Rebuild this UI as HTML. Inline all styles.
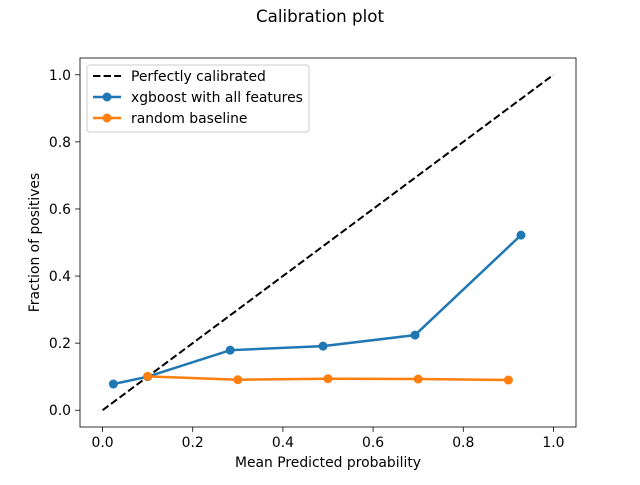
<!DOCTYPE html>
<html><head><meta charset="utf-8"><style>
body{margin:0;background:#fff;}
text{font-family:"DejaVu Sans","Liberation Sans",sans-serif;fill:#000;}
</style></head><body>
<svg id="c" width="640" height="480" xmlns="http://www.w3.org/2000/svg">
<text x="320" y="22" font-size="16.7" text-anchor="middle">Calibration plot</text>
<g id="plot"></g>
</svg>
<script>
const xgbX=[0.024,0.1,0.283,0.489,0.693,0.928];
const xgbY=[0.078,0.1,0.179,0.191,0.224,0.522];
const rndX=[0.1,0.3,0.5,0.7,0.9];
const rndY=[0.101,0.091,0.094,0.093,0.090];
const ticks=[0,0.2,0.4,0.6,0.8,1.0];
const tickLabels=["0.0","0.2","0.4","0.6","0.8","1.0"];
const L=80,R=576,T=58,B=427;
const sx=v=>L+(v+0.05)/1.1*(R-L);
const sy=v=>B-(v+0.05)/1.1*(B-T);
const NS="http://www.w3.org/2000/svg";
const g=document.getElementById('plot');
function mk(t,a,p){const e=document.createElementNS(NS,t);for(const k in a)e.setAttribute(k,a[k]);(p||g).appendChild(e);return e;}
const frame=mk('rect',{x:L,y:T,width:R-L,height:B-T,fill:'none',stroke:'#000','stroke-width':0.8});


ticks.forEach((v,i)=>{
 const x=sx(v),y=sy(v);
 mk('line',{x1:x,x2:x,y1:B,y2:B+4.9,stroke:'#000','stroke-width':0.8});
 const tx=mk('text',{x:x,y:B+20,'font-size':13.9,'text-anchor':'middle'});tx.textContent=tickLabels[i];
 
 
 mk('line',{x1:L-4.9,x2:L,y1:y,y2:y,stroke:'#000','stroke-width':0.8});
 const ty=mk('text',{x:L-9,y:y+5,'font-size':13.9,'text-anchor':'end'});ty.textContent=tickLabels[i];
 
 
});
const xt=mk('text',{x:(L+R)/2,y:467,'font-size':13.9,'text-anchor':'middle'});xt.textContent='Mean Predicted probability';


const yt=mk('text',{x:0,y:0,'font-size':13.9,'text-anchor':'middle',transform:`translate(39,${(T+B)/2}) rotate(-90)`});yt.textContent='Fraction of positives';


const diag=mk('line',{x1:sx(0),y1:sy(0),x2:sx(1),y2:sy(1),stroke:'#000','stroke-width':2,'stroke-dasharray':'7.4,3.2'});


function series(X,Y,col,name){
 const pl=mk('polyline',{points:X.map((x,i)=>sx(x)+','+sy(Y[i])).join(' '),fill:'none',stroke:col,'stroke-width':2.5});
 
 
 X.forEach((x,i)=>{const c=mk('circle',{cx:sx(x),cy:sy(Y[i]),r:4.5,fill:col});
 
 });
}
series(xgbX,xgbY,'#1f77b4','xgboost');
series(rndX,rndY,'#ff7f0e','random-baseline');
const lg=mk('g',{});


mk('rect',{x:87,y:65,width:222,height:67,rx:3,fill:'#fff','fill-opacity':0.8,stroke:'#ccc'},lg);
const ents=[['Perfectly calibrated','#000',true],['xgboost with all features','#1f77b4',false],['random baseline','#ff7f0e',false]];
ents.forEach((e,i)=>{
 const y=76+i*21;
 const eg=mk('g',{},lg);
 
 
 mk('line',{x1:93,x2:121,y1:y,y2:y,stroke:e[1],'stroke-width':e[2]?2:2.5,'stroke-dasharray':e[2]?'7.4,3.2':'none'},eg);
 if(!e[2])mk('circle',{cx:107,cy:y,r:4.5,fill:e[1]},eg);
 const t=mk('text',{x:131,y:y+5,'font-size':13.9},eg);t.textContent=e[0];
});
</script>
</body></html>
